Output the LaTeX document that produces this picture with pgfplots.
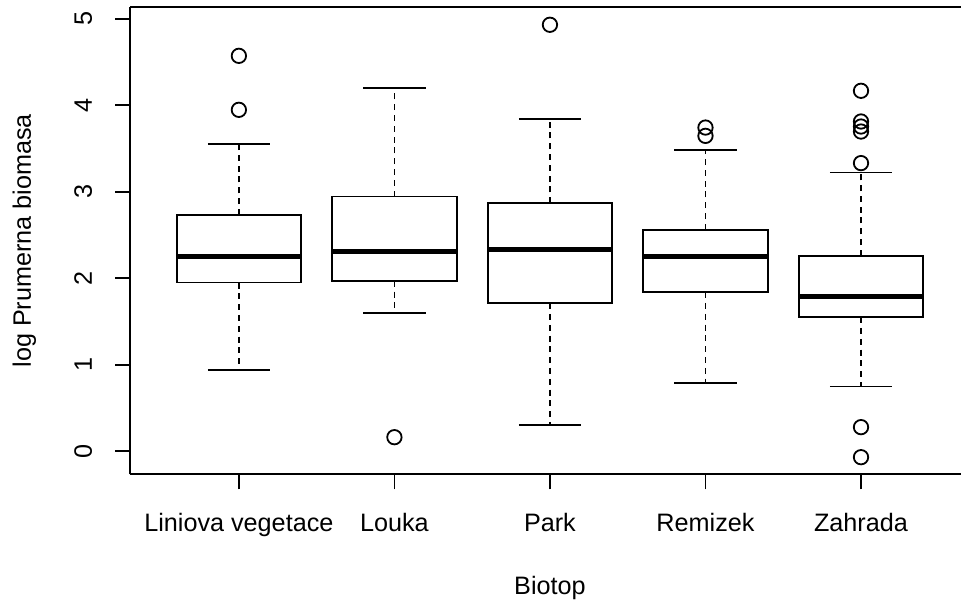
\documentclass[border=0pt]{standalone}
\usepackage{pgfplots}
\pgfplotsset{compat=1.18}
\usepgfplotslibrary{statistics}
\usepackage{fontspec}
\setmainfont{Liberation Sans}
\newcommand{\fs}{\fontsize{12.6}{15}\selectfont}
\pgfplotsset{
  rbox/.style={
    boxplot prepared={#1},
    black, line width=0.9pt, solid,
    boxplot/draw direction=y,
    boxplot/box extend=0.8,
    boxplot/whisker extend=0.4,
    boxplot/every median/.style={line width=2.4pt},
    boxplot/draw/lower whisker/.code={%
      \draw[dash pattern=on 3pt off 2.4pt]
        (boxplot box cs:\pgfplotsboxplotvalue{lower quartile},0.5) --
        (boxplot box cs:\pgfplotsboxplotvalue{lower whisker},0.5);
      \draw (boxplot whisker cs:\pgfplotsboxplotvalue{lower whisker},0) --
        (boxplot whisker cs:\pgfplotsboxplotvalue{lower whisker},1);
    },
    boxplot/draw/upper whisker/.code={%
      \draw[dash pattern=on 3pt off 2.4pt]
        (boxplot box cs:\pgfplotsboxplotvalue{upper quartile},0.5) --
        (boxplot box cs:\pgfplotsboxplotvalue{upper whisker},0.5);
      \draw (boxplot whisker cs:\pgfplotsboxplotvalue{upper whisker},0) --
        (boxplot whisker cs:\pgfplotsboxplotvalue{upper whisker},1);
    },
    mark=o, mark size=3.6pt, mark options={solid, line width=0.9pt, black},
  },
}
\begin{document}
\begin{tikzpicture}
\begin{axis}[
  at={(0,0)}, anchor=south west,
  scale only axis, width=415.5pt, height=233.5pt,
  xmin=0.3, xmax=5.643, ymin=-0.265, ymax=5.133,
  axis lines*=left,
  axis line style={line width=0.9pt, black},
  tick align=outside, major tick length=7.5pt,
  tick style={line width=0.9pt, black},
  xtick={1,2,3,4,5},
  xticklabels={Liniova vegetace, Louka, Park, Remizek, Zahrada},
  ytick={0,1,2,3,4,5},
  /pgf/number format/assume math mode=true,
  ticklabel style={font=\fs},
  xticklabel style={anchor=base, yshift=-20.85pt},
  yticklabel style={xshift=-11.5pt, rotate=90, anchor=base},
  xlabel={Biotop}, ylabel={log Prumerna biomasa},
  every axis x label/.style={at={(axis cs:3,-0.265)}, yshift=-59.85pt, anchor=base, font=\fs},
  every axis y label/.style={at={(axis description cs:0,0.5)}, xshift=-49.5pt, rotate=90, anchor=base, font=\fs},
  clip=false,
]
\addplot[rbox={draw position=1, lower whisker=0.942, lower quartile=1.951, median=2.252, upper quartile=2.734, upper whisker=3.551}]
  table[row sep=\\, y index=0] {y\\ 4.572\\ 3.948\\};
\addplot[rbox={draw position=2, lower whisker=1.598, lower quartile=1.971, median=2.310, upper quartile=2.946, upper whisker=4.202}]
  table[row sep=\\, y index=0] {y\\ 0.164\\};
\addplot[rbox={draw position=3, lower whisker=0.303, lower quartile=1.713, median=2.337, upper quartile=2.869, upper whisker=3.840}]
  table[row sep=\\, y index=0] {y\\ 4.931\\};
\addplot[rbox={draw position=4, lower whisker=0.788, lower quartile=1.840, median=2.252, upper quartile=2.561, upper whisker=3.486}]
  table[row sep=\\, y index=0] {y\\ 3.743\\ 3.647\\};
\addplot[rbox={draw position=5, lower whisker=0.749, lower quartile=1.551, median=1.790, upper quartile=2.260, upper whisker=3.223}]
  table[row sep=\\, y index=0] {y\\ 4.168\\ 3.813\\ 3.755\\ 3.697\\ 3.332\\ 0.280\\ -0.067\\};
\draw[line width=0.9pt, black] (rel axis cs:0,1) -- (rel axis cs:1,1);
\end{axis}
\pgfresetboundingbox
\useasboundingbox (-65pt,-63.35pt) rectangle (415.5pt,237.15pt);
\end{tikzpicture}
\end{document}
